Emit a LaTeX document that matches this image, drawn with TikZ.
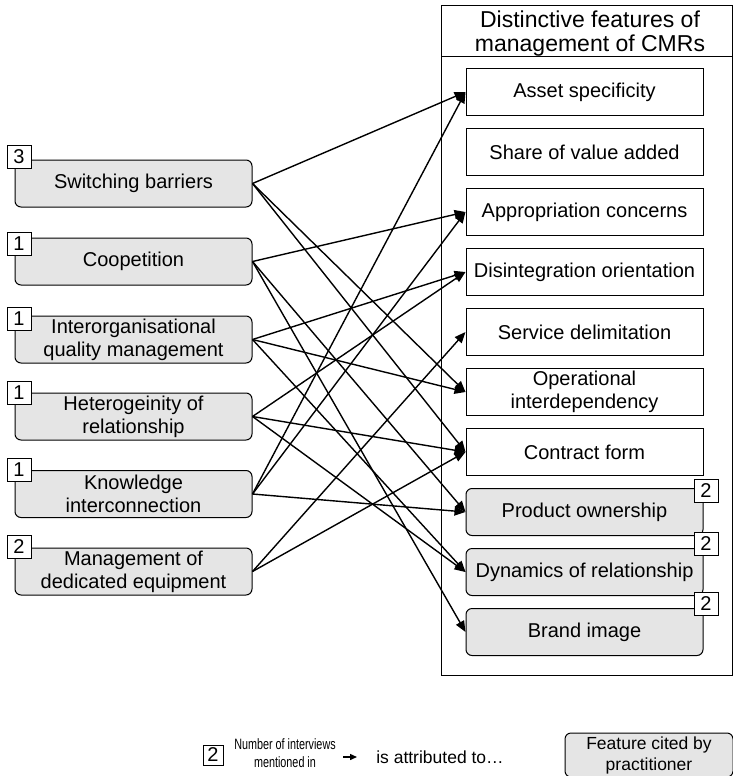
\documentclass[tikz,border=0pt]{standalone}
\usepackage{fontspec}
\setmainfont{Liberation Sans}
\newfontfamily\narrowfont[FakeStretch=0.72]{Liberation Sans}
\usetikzlibrary{arrows.meta}

\begin{document}
\begin{tikzpicture}[x=1pt, y=-1pt,
        cause/.style={draw, rounded corners=6pt, fill=gray!20, line width=1pt,
            minimum width=237pt, minimum height=47pt, inner sep=0pt,
            align=center, font=\fontsize{20}{23}\selectfont},
        feat/.style={draw, line width=1pt, minimum width=237pt, minimum height=47pt,
            inner sep=0pt, align=center, font=\fontsize{20}{23}\selectfont},
        cited/.style={feat, rounded corners=6pt, fill=gray!20},
        count/.style={draw, fill=white, line width=0.9pt, minimum width=24pt,
            minimum height=23pt, inner sep=0pt, font=\fontsize{20}{20}\selectfont},
        link/.style={line width=1.4pt, -{Triangle[length=11pt, width=9pt]}}]
    \useasboundingbox (0, 0) rectangle (733, 776);

    % frame of the features
    \draw[line width=0.9pt] (441, 5) rectangle (732, 675);
    \draw[line width=0.9pt] (441, 56) -- (732, 56);
    \node[align=center, font=\fontsize{23}{24}\selectfont] (title) at (590, 34)
        {Distinctive features of\\management of CMRs};

    % left column
    \node[cause] (sb) at (133.5, 183.5) {Switching barriers};
    \node[cause] (coop) at (133.5, 261.5) {Coopetition};
    \node[cause] (iqm) at (133.5, 339.5) {Interorganisational\\quality management};
    \node[cause] (het) at (133.5, 416.5) {Heterogeinity of\\relationship};
    \node[cause] (know) at (133.5, 494) {Knowledge\\interconnection};
    \node[cause] (equip) at (133.5, 571.5) {Management of\\dedicated equipment};

    \node[count] (nsb) at (19, 156.5) {3};
    \node[count] (ncoop) at (19, 243.5) {1};
    \node[count] (niqm) at (19, 318.5) {1};
    \node[count] (nhet) at (19, 392.5) {1};
    \node[count] (nknow) at (19, 469.5) {1};
    \node[count] (nequip) at (19, 546.5) {2};

    % right column
    \node[feat] (asset) at (584.5, 92) {Asset specificity};
    \node[feat] (share) at (584.5, 152) {Share of value added};
    \node[feat] (approp) at (584.5, 212) {Appropriation concerns};
    \node[feat] (disint) at (584.5, 272) {Disintegration orientation};
    \node[feat] (serv) at (584.5, 332) {Service delimitation};
    \node[feat] (oper) at (584.5, 392) {Operational\\interdependency};
    \node[feat] (contr) at (584.5, 452) {Contract form};
    \node[cited] (own) at (584.5, 512) {Product ownership};
    \node[cited] (dyn) at (584.5, 572) {Dynamics of relationship};
    \node[cited] (brand) at (584.5, 632) {Brand image};

    \node[count] (nown) at (706, 490.5) {2};
    \node[count] (ndyn) at (706, 543.5) {2};
    \node[count] (nbrand) at (706, 603.5) {2};

    % links
    \draw[link] (sb.east) -- (asset.west);
    \draw[link] (sb.east) -- (oper.west);
    \draw[link] (sb.east) -- (contr.west);
    \draw[link] (coop.east) -- (approp.west);
    \draw[link] (coop.east) -- (own.west);
    \draw[link] (coop.east) -- (brand.west);
    \draw[link] (iqm.east) -- (disint.west);
    \draw[link] (iqm.east) -- (oper.west);
    \draw[link] (iqm.east) -- (dyn.west);
    \draw[link] (het.east) -- (disint.west);
    \draw[link] (het.east) -- (contr.west);
    \draw[link] (het.east) -- (dyn.west);
    \draw[link] (know.east) -- (asset.west);
    \draw[link] (know.east) -- (approp.west);
    \draw[link] (know.east) -- (own.west);
    \draw[link] (equip.east) -- (serv.west);
    \draw[link] (equip.east) -- (contr.west);

    % legend
    \node[count, minimum width=20pt, minimum height=20pt, line width=0.8pt] (key) at (213, 755) {2};
    \node[align=center, font=\narrowfont\fontsize{15}{18}\selectfont] (keytext) at (285, 753)
        {Number of interviews\\mentioned in};
    \coordinate (k1) at (343, 757);
    \coordinate (k2) at (357, 757);
    \draw[line width=1.4pt, -{Triangle[length=7pt, width=6pt]}] (k1) -- (k2);
    \node[font=\fontsize{17.5}{20}\selectfont] (attr) at (440, 757) {is attributed to…};
    \node[cited, minimum width=168pt, minimum height=44pt, font=\fontsize{17.5}{21}\selectfont]
        (keybox) at (649, 755) {Feature cited by\\practitioner};
\end{tikzpicture}
\end{document}
